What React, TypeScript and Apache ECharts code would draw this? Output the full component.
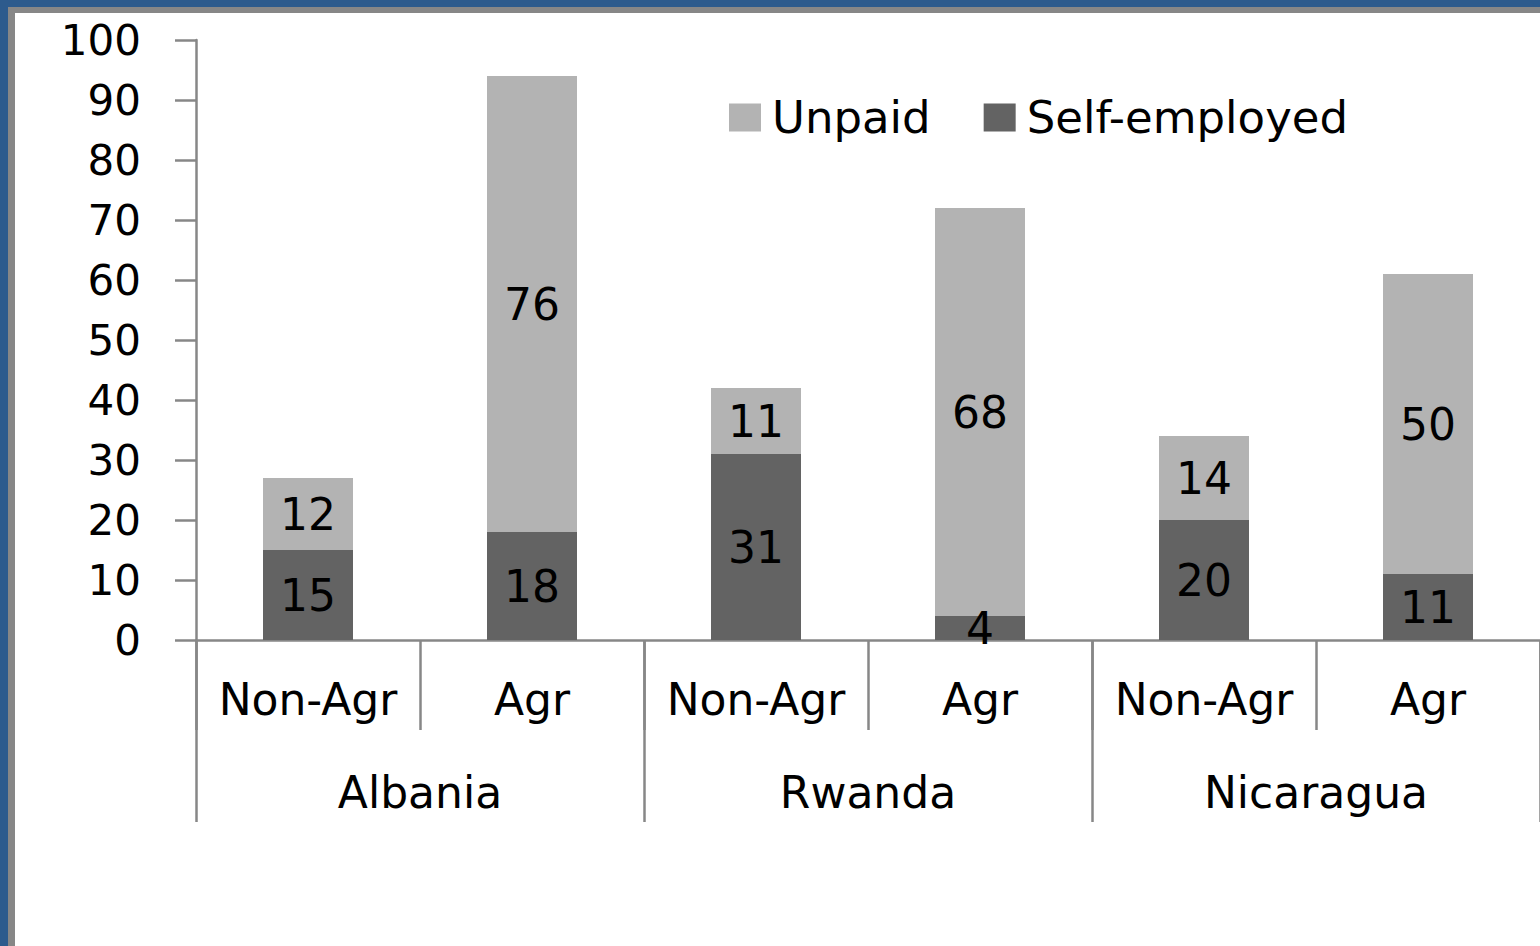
import React, { useEffect, useRef } from "react";
import * as echarts from "echarts";

const categories = ["Non-Agr", "Agr", "Non-Agr", "Agr", "Non-Agr", "Agr"];
const countries = ["Albania", "Rwanda", "Nicaragua"];
const selfEmployed = [15, 18, 31, 4, 20, 11];
const unpaid = [12, 76, 11, 68, 14, 50];
const seriesNames = ["Unpaid", "Self-employed"];

const FONT = "DejaVu Sans";
const AXIS_GRAY = "#878787";

export default function App() {
  const ref = useRef<HTMLDivElement>(null);
  useEffect(() => {
    if (!ref.current) return;
    const chart = echarts.init(ref.current, null, { renderer: "svg" });
    const labelStyle = {
      show: true,
      position: "inside",
      color: "#000",
      fontSize: 44,
      fontFamily: FONT,
    };
    chart.setOption({
      animation: false,
      backgroundColor: "#ffffff",
      grid: { left: 196, top: 40, width: 1352, height: 600, containLabel: false },
      legend: {
        data: seriesNames,
        left: 724,
        top: 90,
        icon: "rect",
        itemWidth: 32,
        itemHeight: 28,
        itemGap: 53,
        textStyle: { fontSize: 45, fontFamily: FONT, color: "#000", padding: [0, 0, 0, 6] },
      },
      xAxis: [
        {
          type: "category",
          data: categories,
          position: "bottom",
          axisLine: { show: true, lineStyle: { color: AXIS_GRAY, width: 2.5 } },
          axisTick: { show: true, interval: 0, length: 90, lineStyle: { color: AXIS_GRAY, width: 2.5 } },
          axisLabel: { interval: 0, fontSize: 44, fontFamily: FONT, color: "#000", margin: 37 },
        },
        {
          type: "category",
          data: countries,
          position: "bottom",
          axisLine: { show: false },
          axisTick: { show: true, interval: 0, length: 182, lineStyle: { color: AXIS_GRAY, width: 2.5 } },
          axisLabel: { interval: 0, fontSize: 44, fontFamily: FONT, color: "#000", margin: 130 },
        },
      ],
      yAxis: {
        type: "value",
        min: 0,
        max: 100,
        interval: 10,
        splitLine: { show: false },
        axisLine: { show: true, lineStyle: { color: AXIS_GRAY, width: 2.5 } },
        axisTick: { show: true, length: 21, lineStyle: { color: AXIS_GRAY, width: 2.5 } },
        axisLabel: { fontSize: 42, fontFamily: FONT, color: "#000", margin: 55 },
      },
      series: [
        {
          name: "Self-employed",
          type: "bar",
          stack: "total",
          barWidth: 90,
          data: selfEmployed,
          itemStyle: { color: "#636363" },
          label: labelStyle,
        },
        {
          name: "Unpaid",
          type: "bar",
          stack: "total",
          barWidth: 90,
          data: unpaid,
          itemStyle: { color: "#b3b3b3" },
          label: labelStyle,
        },
      ],
      graphic: [
        { type: "rect", left: 0, top: 0, z: 100, shape: { width: 1540, height: 7 }, style: { fill: "#2d5b8d" } },
        { type: "rect", left: 0, top: 0, z: 100, shape: { width: 8, height: 946 }, style: { fill: "#2d5b8d" } },
        { type: "rect", left: 8, top: 7, z: 100, shape: { width: 1532, height: 6 }, style: { fill: AXIS_GRAY } },
        { type: "rect", left: 8, top: 7, z: 100, shape: { width: 7, height: 939 }, style: { fill: AXIS_GRAY } },
      ],
    });
    return () => chart.dispose();
  }, []);
  return (
    <div
      ref={ref}
      style={{ position: "absolute", left: 0, top: 0, width: 1540, height: 946, background: "#fff" }}
    />
  );
}
